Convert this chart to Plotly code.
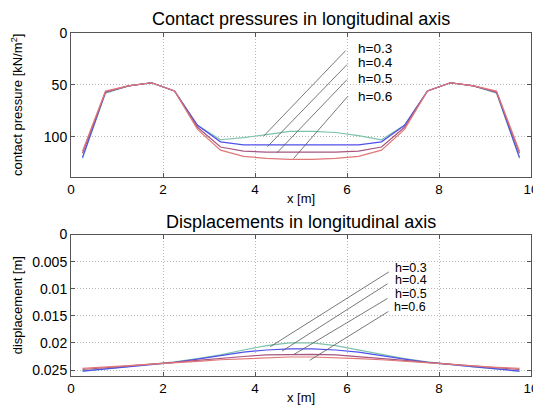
import plotly.graph_objects as go

# node positions along the beam [m]
x = [0.25, 0.75, 1.25, 1.75, 2.25, 2.75, 3.25, 3.75, 4.25, 4.75,
     5.25, 5.75, 6.25, 6.75, 7.25, 7.75, 8.25, 8.75, 9.25, 9.75]

heights = ['h=0.3', 'h=0.4', 'h=0.5', 'h=0.6']
colors = ['#7cc2ae', '#5050ea', '#a8557f', '#e07878']

# contact pressures [kN/m2]
p_h03 = [121, 58, 51, 48, 56, 89, 103, 101, 98, 95,
         95, 96, 99, 103, 89, 56, 48, 51, 58, 121]
p_h04 = [120, 57, 51, 48, 56, 89, 105, 108, 108, 108,
         108, 108, 108, 105, 89, 56, 48, 51, 57, 120]
p_h05 = [116, 57, 51, 48, 56, 91, 110, 114, 115, 115,
         115, 115, 114, 110, 91, 56, 48, 51, 57, 116]
p_h06 = [114, 56, 51, 48, 56, 93, 113, 119, 121, 122,
         122, 121, 119, 113, 93, 56, 48, 51, 56, 114]

# displacements [m]
d_h03 = [0.0252, 0.0248, 0.0244, 0.0240, 0.0235, 0.0229, 0.0222, 0.0213, 0.0205, 0.0200,
         0.0200, 0.0205, 0.0213, 0.0222, 0.0229, 0.0235, 0.0240, 0.0244, 0.0248, 0.0252]
d_h04 = [0.0252, 0.0248, 0.0244, 0.0240, 0.0236, 0.0230, 0.0224, 0.0217, 0.0213, 0.0211,
         0.0211, 0.0213, 0.0217, 0.0224, 0.0230, 0.0236, 0.0240, 0.0244, 0.0248, 0.0252]
d_h05 = [0.0249, 0.0246, 0.0243, 0.0239, 0.0236, 0.0232, 0.0228, 0.0225, 0.0222, 0.0221,
         0.0221, 0.0222, 0.0225, 0.0228, 0.0232, 0.0236, 0.0239, 0.0243, 0.0246, 0.0249]
d_h06 = [0.0247, 0.0245, 0.0242, 0.0239, 0.0237, 0.0234, 0.0231, 0.0229, 0.0227, 0.0226,
         0.0226, 0.0227, 0.0229, 0.0231, 0.0234, 0.0237, 0.0239, 0.0242, 0.0245, 0.0247]

# label callouts: line from curve point to line top, text placed beside
p_lbl_pts = [(4.19, 99.4), (4.27, 109.7), (4.48, 115.5), (4.84, 121)]
p_lbl_top = [(5.97, 17), (6.0, 30.5), (6.0, 45), (6.02, 61)]
p_lbl_txt = [(6.19, 15.2), (6.19, 28.7), (6.19, 44.2), (6.19, 61.6)]
d_lbl_pts = [(4.33, 0.0207), (4.59, 0.0215), (4.85, 0.0221), (5.19, 0.0232)]
d_lbl_top = [(6.91, 0.0069), (6.88, 0.0091), (6.88, 0.0118), (6.90, 0.0142)]
d_lbl_txt = [(7.01, 0.0062), (7.01, 0.0084), (7.01, 0.0110), (6.98, 0.0134)]

font = 'Liberation Sans, Arial, sans-serif'

fig = go.Figure()
for ys, c in zip([p_h03, p_h04, p_h05, p_h06], colors):
    fig.add_trace(go.Scatter(x=x, y=ys, mode='lines', line=dict(color=c, width=1.2),
                             xaxis='x', yaxis='y', showlegend=False))
for ys, c in zip([d_h03, d_h04, d_h05, d_h06], colors):
    fig.add_trace(go.Scatter(x=x, y=ys, mode='lines', line=dict(color=c, width=1.2),
                             xaxis='x2', yaxis='y2', showlegend=False))

annotations = []
for (x0, y0), (x1, y1), (tx, ty), t in zip(p_lbl_pts, p_lbl_top, p_lbl_txt, heights):
    fig.add_shape(type='line', x0=x0, y0=y0, x1=x1, y1=y1, xref='x', yref='y',
                  line=dict(color='#555555', width=0.8))
    annotations.append(dict(x=tx, y=ty, xref='x', yref='y', text=t, showarrow=False,
                            xanchor='left', yanchor='middle', font=dict(size=13.5, color='black')))
for (x0, y0), (x1, y1), (tx, ty), t in zip(d_lbl_pts, d_lbl_top, d_lbl_txt, heights):
    fig.add_shape(type='line', x0=x0, y0=y0, x1=x1, y1=y1, xref='x2', yref='y2',
                  line=dict(color='#555555', width=0.8))
    annotations.append(dict(x=tx, y=ty, xref='x2', yref='y2', text=t, showarrow=False,
                            xanchor='left', yanchor='middle', font=dict(size=12.5, color='black')))

annotations += [
    dict(x=0.5, y=1.0, xref='paper', yref='paper', yshift=2, text='Contact pressures in longitudinal axis',
         showarrow=False, yanchor='bottom', font=dict(size=18, color='black')),
    dict(x=0.5, y=0.4125, xref='paper', yref='paper', yshift=1, text='Displacements in longitudinal axis',
         showarrow=False, yanchor='bottom', font=dict(size=18, color='black')),
    dict(x=0.5, y=0.58, xref='paper', yref='paper', yshift=-21, text='x [m]',
         showarrow=False, yanchor='middle', font=dict(size=13, color='black')),
    dict(x=0.5, y=0, xref='paper', yref='paper', yshift=-21, text='x [m]',
         showarrow=False, yanchor='middle', font=dict(size=13, color='black')),
    dict(x=0, y=0.79, xref='paper', yref='paper', xshift=-54, text='contact pressure [kN/m<sup>2</sup>]',
         showarrow=False, textangle=-90, xanchor='center', yanchor='middle', font=dict(size=13, color='black')),
    dict(x=0, y=0.206, xref='paper', yref='paper', xshift=-54, text='displacement [m]',
         showarrow=False, textangle=-90, xanchor='center', yanchor='middle', font=dict(size=13, color='black')),
]

axis_common = dict(showline=True, linecolor='#555555', linewidth=1, mirror='ticks',
                   ticks='inside', ticklen=4, tickcolor='#555555', automargin=False,
                   showgrid=True, gridcolor='#b8b8b8', griddash='1px,2px', gridwidth=1,
                   zeroline=False, tickfont=dict(size=14, color='black'))

# the page body adds an 8px margin, so the figure is 8px smaller on each axis
fig.update_layout(
    template='none',
    width=533, height=397,
    margin=dict(l=63, r=10, t=25, b=29, autoexpand=False),
    paper_bgcolor='white', plot_bgcolor='white',
    font=dict(family=font, color='black'),
    annotations=annotations,
    xaxis=dict(axis_common, domain=[0, 1], range=[0, 10], dtick=2, anchor='y',
               tickfont=dict(size=13.5, color='black')),
    yaxis=dict(axis_common, domain=[0.58, 1], range=[139, 0], tickvals=[0, 50, 100], anchor='x'),
    xaxis2=dict(axis_common, domain=[0, 1], range=[0, 10], dtick=2, anchor='y2',
                tickfont=dict(size=13.5, color='black')),
    yaxis2=dict(axis_common, domain=[0, 0.4125], range=[0.0261, 0], anchor='x2',
                tickvals=[0, 0.005, 0.01, 0.015, 0.02, 0.025],
                ticktext=['0', '0.005', '0.01', '0.015', '0.02', '0.025']),
)

fig.write_html('out.html')
